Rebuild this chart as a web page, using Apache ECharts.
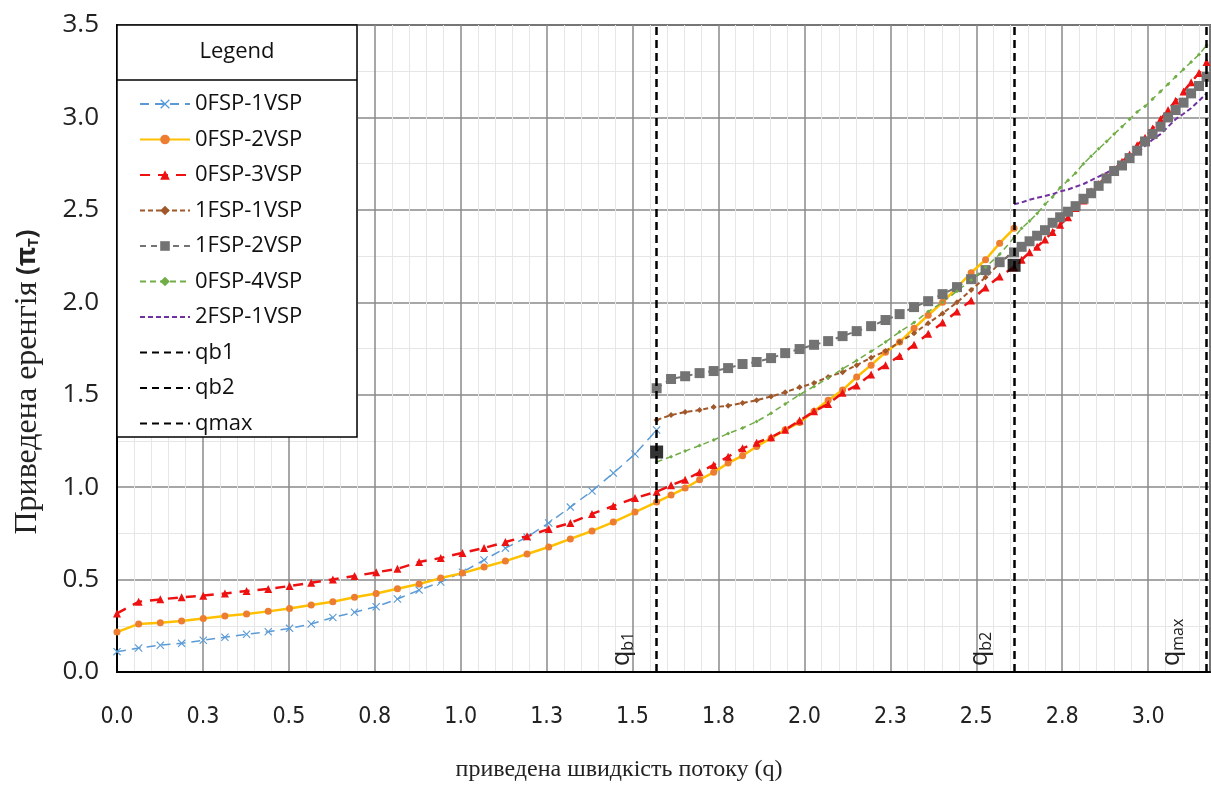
<!DOCTYPE html>
<html>
<head>
<meta charset="utf-8">
<script src="https://cdn.jsdelivr.net/npm/echarts@6/dist/echarts.min.js"></script>
<style>
  html, body { margin: 0; padding: 0; background: #fff; }
  #chart { width: 1211px; height: 787px; }
</style>
</head>
<body>
<div id="chart"></div>
<script>
// q points: 0..qb1, qb1..qb2, qb2..qmax
const qA = [0.000, 0.063, 0.126, 0.188, 0.251, 0.314, 0.377, 0.440, 0.502, 0.565, 0.628, 0.691, 0.754, 0.816, 0.879, 0.942, 1.005, 1.068, 1.130, 1.193, 1.256, 1.319, 1.382, 1.444, 1.507, 1.570];
const qB = [1.570, 1.612, 1.653, 1.695, 1.736, 1.778, 1.820, 1.861, 1.903, 1.944, 1.986, 2.028, 2.069, 2.111, 2.152, 2.194, 2.236, 2.277, 2.319, 2.360, 2.402, 2.444, 2.485, 2.527, 2.568, 2.610];
const qC = [2.610, 2.632, 2.655, 2.677, 2.700, 2.722, 2.744, 2.767, 2.789, 2.812, 2.834, 2.856, 2.879, 2.901, 2.924, 2.946, 2.968, 2.991, 3.013, 3.036, 3.058, 3.080, 3.103, 3.125, 3.148, 3.170];

// 0FSP-1VSP
const f0v1A = [0.11, 0.13, 0.145, 0.155, 0.172, 0.188, 0.204, 0.218, 0.236, 0.26, 0.295, 0.323, 0.353, 0.395, 0.443, 0.487, 0.54, 0.606, 0.67, 0.73, 0.806, 0.892, 0.979, 1.076, 1.179, 1.309];
// 0FSP-2VSP
const f0v2A = [0.216, 0.26, 0.267, 0.276, 0.29, 0.303, 0.314, 0.328, 0.344, 0.362, 0.38, 0.404, 0.425, 0.45, 0.476, 0.508, 0.535, 0.568, 0.6, 0.638, 0.676, 0.72, 0.763, 0.811, 0.865, 0.919];
const f0v2B = [0.919, 0.957, 0.995, 1.04, 1.08, 1.13, 1.17, 1.22, 1.265, 1.31, 1.35, 1.41, 1.47, 1.525, 1.596, 1.66, 1.73, 1.785, 1.86, 1.93, 2.0, 2.08, 2.16, 2.23, 2.32, 2.40];
// 0FSP-3VSP
const f0v3A = [0.317, 0.38, 0.393, 0.404, 0.413, 0.425, 0.438, 0.449, 0.465, 0.483, 0.501, 0.519, 0.539, 0.558, 0.595, 0.617, 0.644, 0.671, 0.703, 0.735, 0.773, 0.806, 0.855, 0.898, 0.941, 0.975];
const f0v3B = [0.975, 1.01, 1.04, 1.08, 1.12, 1.165, 1.21, 1.24, 1.27, 1.31, 1.36, 1.41, 1.45, 1.51, 1.55, 1.61, 1.66, 1.71, 1.77, 1.83, 1.89, 1.95, 2.01, 2.08, 2.14, 2.19];
const f0v3C = [2.19, 2.23, 2.27, 2.30, 2.34, 2.38, 2.42, 2.46, 2.51, 2.55, 2.60, 2.64, 2.68, 2.72, 2.76, 2.80, 2.85, 2.89, 2.94, 2.99, 3.04, 3.09, 3.14, 3.19, 3.24, 3.30];
// 1FSP-1VSP
const f1v1B = [1.363, 1.39, 1.406, 1.417, 1.433, 1.44, 1.455, 1.47, 1.49, 1.514, 1.54, 1.563, 1.596, 1.622, 1.66, 1.70, 1.736, 1.785, 1.833, 1.887, 1.94, 2.0, 2.066, 2.136, 2.21, 2.28];
// 1FSP-2VSP
const f1v2B = [1.535, 1.585, 1.60, 1.617, 1.628, 1.644, 1.666, 1.677, 1.698, 1.725, 1.747, 1.77, 1.79, 1.817, 1.844, 1.871, 1.904, 1.936, 1.974, 2.006, 2.044, 2.082, 2.125, 2.174, 2.217, 2.27];
const f1v2C = [2.27, 2.30, 2.33, 2.36, 2.39, 2.43, 2.46, 2.49, 2.52, 2.56, 2.59, 2.63, 2.67, 2.71, 2.74, 2.78, 2.82, 2.87, 2.91, 2.95, 3.00, 3.04, 3.08, 3.13, 3.17, 3.22];
// 0FSP-4VSP
const f0v4B = [1.136, 1.165, 1.195, 1.225, 1.255, 1.29, 1.32, 1.355, 1.40, 1.45, 1.50, 1.545, 1.59, 1.64, 1.685, 1.735, 1.785, 1.84, 1.89, 1.95, 2.00, 2.06, 2.12, 2.19, 2.26, 2.35];
const f0v4C = [2.35, 2.40, 2.44, 2.48, 2.53, 2.57, 2.62, 2.66, 2.70, 2.75, 2.79, 2.83, 2.87, 2.91, 2.95, 2.99, 3.03, 3.06, 3.10, 3.14, 3.18, 3.22, 3.26, 3.30, 3.34, 3.39];
// 2FSP-1VSP
const f2v1C = [2.53, 2.54, 2.555, 2.565, 2.575, 2.585, 2.60, 2.61, 2.625, 2.64, 2.66, 2.68, 2.70, 2.725, 2.75, 2.78, 2.81, 2.845, 2.88, 2.91, 2.95, 2.99, 3.02, 3.05, 3.09, 3.13];

// boundaries and black markers
const qb1 = 1.57, qb2 = 2.61, qmax = 3.17;
const blackPts = [[1.57, 1.19], [2.61, 2.20]];

const xTickLabels = ['0.0', '0.3', '0.5', '0.8', '1.0', '1.3', '1.5', '1.8', '2.0', '2.3', '2.5', '2.8', '3.0'];
const yTickLabels = ['0.0', '0.5', '1.0', '1.5', '2.0', '2.5', '3.0', '3.5'];

function zip(xs, ys) {
  return xs.map((x, i) => [x, ys[i]]);
}
function join(...parts) {
  let out = parts[0].slice();
  for (let i = 1; i < parts.length; i++) out = out.concat(parts[i].slice(1));
  return out;
}

const sans = '"Open Sans", "Liberation Sans", sans-serif';
const narrow = '"Liberation Sans Narrow", "DejaVu Sans Condensed", sans-serif';
const serif = '"Liberation Serif", "DejaVu Serif", serif';

const xMark = 'path://M0,1L1,0L5,4L9,0L10,1L6,5L10,9L9,10L5,6L1,10L0,9L4,5Z';

function vLine(name, q, sub) {
  return {
    name: name,
    type: 'line',
    data: [],
    symbol: 'none',
    lineStyle: { color: '#000', width: 2, type: [7, 5] },
    markLine: {
      silent: true,
      symbol: 'none',
      lineStyle: { color: '#000', width: 2.5, type: [8, 5] },
      data: [{ xAxis: q }],
      label: {
        show: true,
        position: 'insideStartTop',
        formatter: '{q|q}{s|' + sub + '}',
        distance: [6, 20],
        rich: {
          q: { fontFamily: sans, fontSize: 25, color: '#222' },
          s: { fontFamily: sans, fontSize: 16, color: '#222', padding: [13, 0, 0, 0] }
        }
      }
    },
    z: 1
  };
}

// legend entries without a marker
const noMark = { opacity: 0 };

let myChart = echarts.init(document.getElementById('chart'));
let option = {
  animation: false,
  backgroundColor: '#fff',
  grid: {
    left: 117,
    right: 1,
    top: 25,
    bottom: 115,
    show: true,
    borderColor: '#000',
    borderWidth: 1.5
  },
  legend: {
    orient: 'vertical',
    left: 134,
    top: 86,
    itemWidth: 50,
    itemHeight: 12,
    itemGap: 9.5,
    data: [
      '0FSP-1VSP', '0FSP-2VSP', '0FSP-3VSP', '1FSP-1VSP', '1FSP-2VSP', '0FSP-4VSP',
      { name: '2FSP-1VSP', itemStyle: noMark },
      { name: 'qb1', itemStyle: noMark },
      { name: 'qb2', itemStyle: noMark },
      { name: 'qmax', itemStyle: noMark }
    ],
    textStyle: { fontFamily: sans, fontSize: 22, lineHeight: 26, color: '#111' },
    selectedMode: false,
    z: 10
  },
  graphic: [
    {
      type: 'rect',
      z: 8,
      shape: { x: 117, y: 25, width: 240, height: 412 },
      style: { fill: '#fff', stroke: '#000', lineWidth: 1.5 }
    },
    {
      type: 'line',
      z: 9,
      shape: { x1: 117, y1: 80, x2: 357, y2: 80 },
      style: { stroke: '#000', lineWidth: 1.5 }
    },
    {
      type: 'text',
      z: 9,
      x: 237,
      y: 52,
      style: {
        text: 'Legend',
        fontFamily: sans,
        fontSize: 22,
        fill: '#111',
        align: 'center',
        verticalAlign: 'middle',
        textAlign: 'center',
        textVerticalAlign: 'middle'
      }
    },
    {
      type: 'text',
      x: 28,
      y: 382,
      rotation: Math.PI / 2,
      style: {
        text: '{a|Приведена еренгія}  {b|(π}{c|T}{b|)}',
        align: 'center',
        verticalAlign: 'middle',
        textAlign: 'center',
        textVerticalAlign: 'middle',
        rich: {
          a: { fontFamily: serif, fontSize: 32, fill: '#222' },
          b: { fontFamily: sans, fontSize: 26, fontWeight: 'bold', fill: '#222' },
          c: { fontFamily: sans, fontSize: 15, fontWeight: 'bold', fill: '#222', padding: [12, 0, 0, 0] }
        }
      }
    },
    {
      type: 'text',
      x: 619,
      y: 770,
      style: {
        text: 'приведена швидкість потоку (q)',
        fontFamily: serif,
        fontSize: 24,
        fill: '#222',
        align: 'center',
        verticalAlign: 'middle',
        textAlign: 'center',
        textVerticalAlign: 'middle'
      }
    }
  ],
  xAxis: {
    type: 'value',
    min: 0,
    max: 3.18,
    interval: 0.25,
    axisLine: { lineStyle: { color: '#000', width: 2 } },
    axisTick: { show: false },
    axisLabel: {
      margin: 34,
      fontFamily: narrow,
      fontSize: 23,
      color: '#222',
      showMaxLabel: false,
      formatter: function (v) {
        let i = Math.round(v / 0.25);
        return Math.abs(i * 0.25 - v) < 1e-6 && i < xTickLabels.length ? xTickLabels[i] : '';
      }
    },
    splitLine: { lineStyle: { color: '#8a8a8a', width: 1.5 } },
    minorTick: { show: false, splitNumber: 5 },
    minorSplitLine: { show: true, lineStyle: { color: '#e6e6e6', width: 1 } }
  },
  yAxis: {
    type: 'value',
    min: 0,
    max: 3.5,
    interval: 0.5,
    axisLine: { show: true, lineStyle: { color: '#000', width: 2 } },
    axisTick: { show: false },
    axisLabel: {
      margin: 18,
      fontFamily: sans,
      fontSize: 26,
      color: '#222',
      formatter: function (v) {
        return yTickLabels[Math.round(v / 0.5)];
      }
    },
    splitLine: { lineStyle: { color: '#8a8a8a', width: 1.5 } },
    minorTick: { show: false, splitNumber: 2 },
    minorSplitLine: { show: true, lineStyle: { color: '#e6e6e6', width: 1 } }
  },
  series: [
    {
      name: '0FSP-1VSP',
      type: 'line',
      data: zip(qA, f0v1A),
      symbol: xMark,
      symbolSize: 8,
      itemStyle: { color: '#5b9bd5' },
      lineStyle: { color: '#5b9bd5', width: 1.5, type: [9, 6] },
      z: 3
    },
    {
      name: '0FSP-2VSP',
      type: 'line',
      data: join(zip(qA, f0v2A), zip(qB, f0v2B)),
      symbol: 'circle',
      symbolSize: 7,
      itemStyle: { color: '#ed7d31' },
      lineStyle: { color: '#ffc000', width: 2.5 },
      z: 3
    },
    {
      name: '0FSP-3VSP',
      type: 'line',
      data: join(zip(qA, f0v3A), zip(qB, f0v3B), zip(qC, f0v3C)),
      symbol: 'triangle',
      symbolSize: 8,
      itemStyle: { color: '#ee1111' },
      lineStyle: { color: '#ee1111', width: 2.5, type: [10, 8] },
      z: 3
    },
    {
      name: '1FSP-1VSP',
      type: 'line',
      data: zip(qB, f1v1B),
      symbol: 'diamond',
      symbolSize: 6,
      itemStyle: { color: '#a0582a' },
      lineStyle: { color: '#a0582a', width: 2, type: [5, 3] },
      z: 3
    },
    {
      name: '1FSP-2VSP',
      type: 'line',
      data: join(zip(qB, f1v2B), zip(qC, f1v2C)),
      symbol: 'rect',
      symbolSize: 10,
      itemStyle: { color: '#737373' },
      lineStyle: { color: '#737373', width: 2, type: [6, 5] },
      z: 3
    },
    {
      name: '0FSP-4VSP',
      type: 'line',
      data: join(zip(qB, f0v4B), zip(qC, f0v4C)),
      symbol: 'diamond',
      symbolSize: 4,
      itemStyle: { color: '#70ad47' },
      lineStyle: { color: '#70ad47', width: 1.5, type: [6, 4] },
      z: 3
    },
    {
      name: '2FSP-1VSP',
      type: 'line',
      data: zip(qC, f2v1C),
      symbol: 'none',
      itemStyle: { color: '#7030a0' },
      lineStyle: { color: '#7030a0', width: 2, type: [5, 3] },
      z: 3
    },
    vLine('qb1', qb1, 'b1'),
    vLine('qb2', qb2, 'b2'),
    vLine('qmax', qmax, 'max'),
    {
      name: 'points',
      type: 'scatter',
      data: blackPts,
      symbol: 'rect',
      symbolSize: 13,
      itemStyle: { color: '#000' },
      z: 4
    }
  ]
};
myChart.setOption(option);
</script>
</body>
</html>
